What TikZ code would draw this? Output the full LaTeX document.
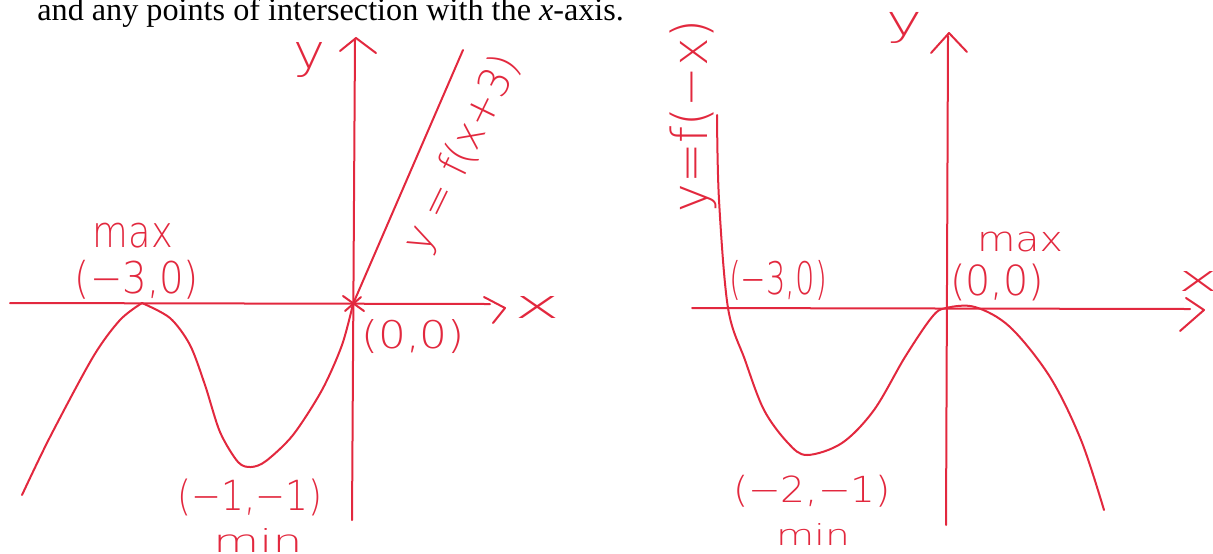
\documentclass[tikz,border=0pt]{standalone}
\usepackage{fontspec}
\usepackage{graphicx}
\setmainfont{Liberation Serif}
\newfontfamily\handfont{DejaVu Sans ExtraLight}
\definecolor{hred}{RGB}{226,40,62}
\newdimen\pxu \pxu=0.5pt
\newcommand{\hw}[3]{\resizebox*{#1\pxu}{#2\pxu}{\handfont #3}}
\begin{document}
\begin{tikzpicture}[x=0.5pt,y=-0.5pt,
  hand/.style={draw=hred,line width=1pt,line cap=round,line join=round},
  lbl/.style={text=hred,inner sep=0pt,outer sep=0pt}]
\useasboundingbox (0,0) rectangle (1213,553);
% heading text
\node[anchor=base west,inner sep=0pt,font=\fontsize{16.1pt}{19pt}\selectfont] (head) at (37,20)
  {and any points of intersection with the \textit{x}-axis.};

% ---------------- left graph ----------------
\coordinate (Lo) at (353,304);
\coordinate (Lxa) at (10,303);
\coordinate (Lxb) at (490,304);
\coordinate (Lya) at (352,520);
\coordinate (Lyb) at (355,40);
\draw[hand] (Lxa) -- (Lxb);
\draw[hand] (Lya) -- (Lyb);
\draw[hand] (340,51) -- (356,38) -- (376,53);
\draw[hand] (484,297) -- (505,308) -- (493,323);
\draw[hand] (343,296) -- (364,311);
\draw[hand] (345,311) -- (361,297);
\draw[hand] plot[smooth,tension=0.5] coordinates {(22,495) (50,437) (93,357) (120,320) (142,303)};
\draw[hand] plot[smooth,tension=0.5] coordinates {(142,303) (170,318) (190,345) (205,385) (220,432) (238,462) (251,467) (266,461) (293,435) (322,390) (342,345) (353,304)};
\coordinate (Ltop) at (463,50);
\draw[hand] (Lo) -- (Ltop);

\node[lbl] (yL) at (309,60) {\hw{32}{35}{y}};
\node[lbl] (xL) at (537,307) {\hw{46}{22}{x}};
\node[lbl] (maxL) at (133,236) {\hw{80}{25}{max}};
\node[lbl] (m30L) at (137,280) {\hw{124}{39}{(−3,0)}};
\node[lbl] (o0L) at (413,337) {\hw{104}{34}{(0,0)}};
\node[lbl] (m11) at (250,497) {\hw{145}{37}{(−1,−1)}};
\node[lbl] (minL) at (258,540) {\hw{89}{24}{min}};
\node[lbl,rotate=64] (fL) at (463,154) {\hw{214}{40}{y = f(x+3)}};

% ---------------- right graph ----------------
\coordinate (Ro) at (946,308);
\coordinate (Rxa) at (692,308);
\coordinate (Rxb) at (1190,309);
\coordinate (Rya) at (946,525);
\coordinate (Ryb) at (948,36);
\draw[hand] (Rxa) -- (Rxb);
\draw[hand] (Rya) -- (Ryb);
\draw[hand] (931,53) -- (949,33) -- (967,52);
\draw[hand] (1186,298) -- (1204,310) -- (1180,331);
\draw[hand] plot[smooth,tension=0.55] coordinates {(717,115) (719,200) (728,308) (745,360) (764,410) (788,443) (807,455) (842,443) (874,410) (905,357) (932,317) (946,308) (975,307) (1010,327) (1050,377) (1081,440) (1104,510)};

\node[lbl] (yR) at (904,28) {\hw{36}{31}{y}};
\node[lbl] (xR) at (1198,281) {\hw{40}{20}{x}};
\node[lbl] (m30R) at (778,280) {\hw{98}{40}{(−3,0)}};
\node[lbl] (maxR) at (1020,242) {\hw{86}{20}{max}};
\node[lbl] (o0R) at (997,282) {\hw{94}{37}{(0,0)}};
\node[lbl] (m21) at (812,491) {\hw{158}{32}{(−2,−1)}};
\node[lbl] (minR) at (813,534) {\hw{74}{22}{min}};
\node[lbl,rotate=90] (fR) at (693,116) {\hw{193}{47}{y=f(−x)}};
\end{tikzpicture}
\end{document}
